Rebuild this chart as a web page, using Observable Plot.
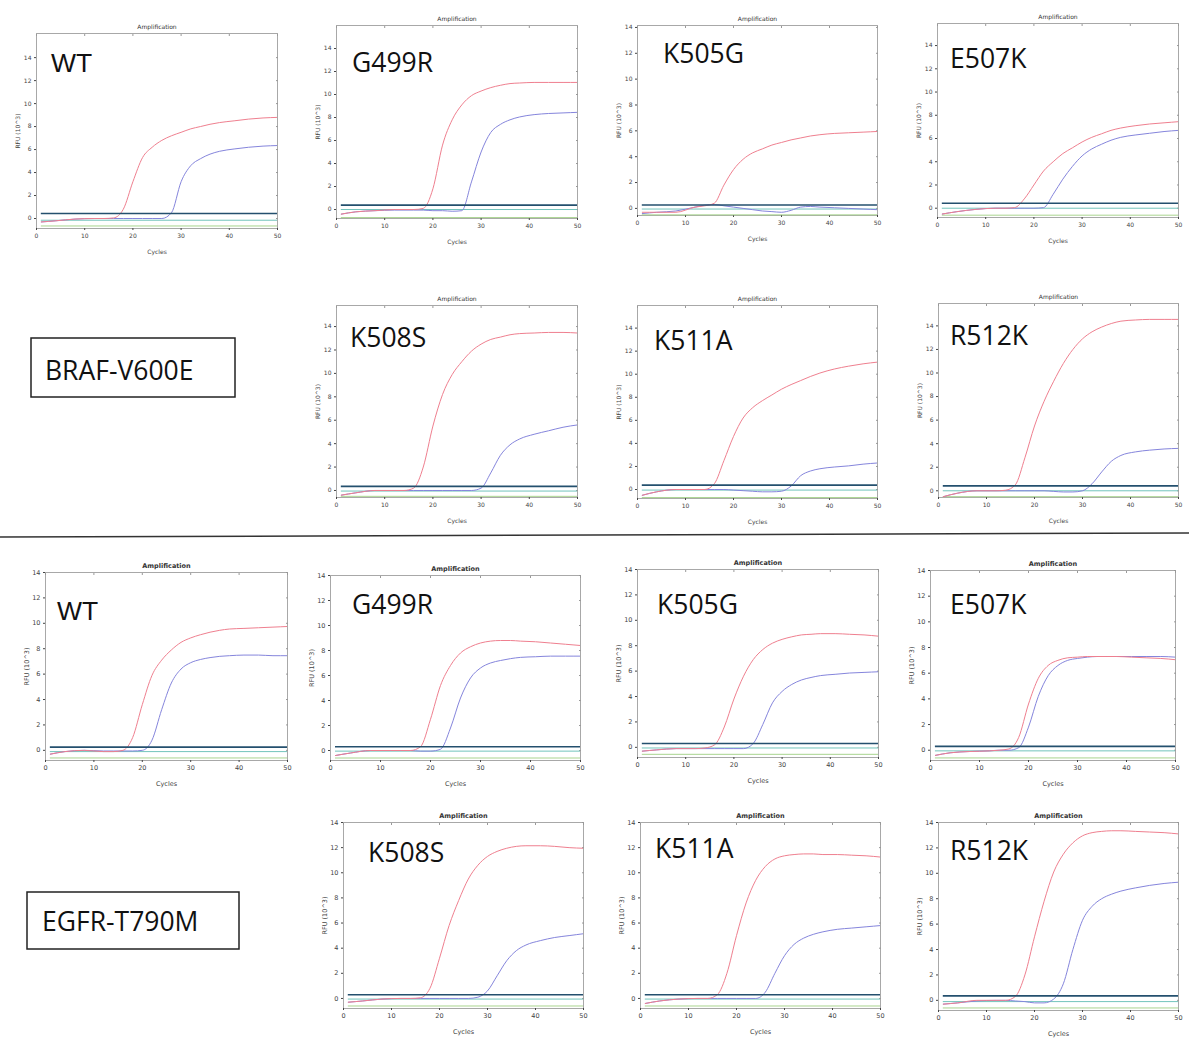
<!DOCTYPE html>
<html>
<head>
<meta charset="utf-8">
<script src="https://cdn.jsdelivr.net/npm/d3@7"></script>
<script src="https://cdn.jsdelivr.net/npm/@observablehq/plot@0.6"></script>
<style>
  html, body { margin: 0; padding: 0; background: #ffffff; }
  #root { position: relative; width: 1189px; height: 1040px; overflow: hidden; }
  #root svg.panel { position: absolute; overflow: visible; background: transparent; }
  #overlay { position: absolute; left: 0; top: 0; }
</style>
</head>
<body>
<div id="root"></div>
<script>
// ---------------- DATA ----------------
const cycles = [1, 4, 8, 12, 14, 16, 18, 20, 22, 24, 26, 28, 30, 32, 34, 36, 38, 41, 44, 47, 50];
const xTicks = [0, 10, 20, 30, 40, 50];
const yTicks = [0, 2, 4, 6, 8, 10, 12, 14];
const genes = ["BRAF-V600E", "EGFR-T790M"];
const mutants = ["WT", "G499R", "K505G", "E507K", "K508S", "K511A", "R512K"];

// BRAF-V600E panels: red (pink) curve per mutant, in the order of `mutants`
const brafRed = [
  [-0.3,-0.2,-0.05,0,0,0.05,0.8,3.2,5.3,6.2,6.8,7.2,7.5,7.8,8.0,8.2,8.35,8.5,8.65,8.75,8.8],
  [-0.4,-0.2,-0.1,0,0,0,0.1,1.8,5.6,7.8,9.1,9.9,10.3,10.6,10.8,10.95,11.0,11.05,11.05,11.05,11.05],
  [-0.3,-0.3,-0.3,0.1,0.2,0.4,1.8,3.0,3.8,4.3,4.6,4.9,5.1,5.3,5.45,5.6,5.7,5.8,5.85,5.9,5.95],
  [-0.5,-0.3,-0.1,0,0,0.05,0.8,2.0,3.2,4.0,4.7,5.2,5.7,6.1,6.4,6.7,6.9,7.1,7.25,7.35,7.45],
  [-0.4,-0.2,0,0,0,0.2,2.0,5.5,8.2,9.9,11.0,11.9,12.5,12.9,13.1,13.3,13.4,13.45,13.5,13.5,13.45],
  [-0.5,-0.2,0,0,0,0.5,2.5,4.6,6.2,7.1,7.7,8.2,8.7,9.1,9.45,9.8,10.1,10.45,10.7,10.9,11.05],
  [-0.5,-0.2,0,0,0.05,0.5,2.8,5.5,7.6,9.3,10.8,12.0,12.9,13.5,13.9,14.2,14.4,14.5,14.55,14.55,14.55]
];
// BRAF-V600E panels: blue curve per mutant
const brafBlue = [
  [-0.3,-0.2,-0.05,0,0,0,0,0,0,0,0,0.5,3.2,4.6,5.2,5.6,5.85,6.05,6.2,6.3,6.35],
  [-0.4,-0.2,-0.1,-0.05,-0.05,-0.05,-0.05,-0.1,-0.1,-0.15,-0.1,2.4,5.0,6.7,7.4,7.8,8.05,8.25,8.35,8.4,8.45],
  [-0.4,-0.3,-0.2,0.1,0.25,0.3,0.2,0.1,0,-0.1,-0.2,-0.25,-0.3,-0.15,0.1,0.15,0.1,0.05,0,-0.05,-0.1],
  [-0.5,-0.3,-0.1,0,0,0,0,0,0.05,1.2,2.5,3.6,4.5,5.1,5.5,5.85,6.1,6.3,6.45,6.6,6.7],
  [-0.4,-0.2,0,0,0,0,0,0,0,0,0,0,0.2,1.5,3.0,3.9,4.4,4.8,5.1,5.4,5.6],
  [-0.5,-0.2,0,0,0,0,0,-0.05,-0.1,-0.15,-0.2,-0.2,-0.15,0.3,1.2,1.6,1.8,1.95,2.05,2.2,2.3],
  [-0.5,-0.2,0,0,0,0,0,0,0,-0.05,-0.1,-0.1,0,0.6,1.6,2.5,3.0,3.3,3.45,3.55,3.6]
];
// EGFR-T790M panels: red (pink) curve per mutant
const egfrRed = [
  [-0.3,-0.1,0,-0.1,-0.1,0,1.0,3.6,5.9,7.1,7.9,8.5,8.85,9.1,9.3,9.45,9.55,9.6,9.65,9.7,9.75],
  [-0.4,-0.2,0,0,0,0,0.3,2.5,5.2,6.8,7.8,8.3,8.6,8.75,8.8,8.8,8.75,8.7,8.6,8.5,8.4],
  [-0.3,-0.2,-0.1,-0.1,-0.05,0.2,1.6,3.8,5.6,6.9,7.7,8.2,8.5,8.7,8.85,8.9,8.95,8.95,8.9,8.85,8.75],
  [-0.4,-0.2,-0.1,-0.05,0,0.1,1.0,3.6,5.6,6.6,7.0,7.2,7.25,7.3,7.3,7.3,7.3,7.25,7.2,7.15,7.05],
  [-0.3,-0.2,-0.05,0,0,0.05,0.8,3.2,5.8,7.8,9.5,10.6,11.3,11.7,11.95,12.1,12.15,12.15,12.1,12.0,11.95],
  [-0.4,-0.2,-0.05,0,0,0.3,2.0,5.0,7.6,9.4,10.5,11.1,11.35,11.45,11.5,11.5,11.45,11.45,11.4,11.35,11.25],
  [-0.3,-0.2,0,0,0,0.3,2.0,5.0,7.8,10.1,11.5,12.4,12.95,13.2,13.3,13.35,13.35,13.3,13.25,13.2,13.1]
];
// EGFR-T790M panels: blue curve per mutant
const egfrBlue = [
  [-0.3,-0.1,0,-0.05,-0.05,-0.05,-0.05,0,0.8,3.2,5.3,6.4,6.9,7.15,7.3,7.4,7.45,7.5,7.5,7.45,7.45],
  [-0.4,-0.2,0,0,0,0,-0.05,-0.05,0.1,1.8,4.2,5.8,6.6,7.0,7.2,7.35,7.45,7.5,7.55,7.55,7.55],
  [-0.3,-0.2,-0.1,-0.1,-0.1,-0.1,-0.1,-0.1,-0.1,0.3,1.8,3.5,4.4,4.95,5.3,5.5,5.65,5.75,5.85,5.9,5.95],
  [-0.4,-0.2,-0.1,-0.05,0,0,0.2,1.8,4.2,5.8,6.6,7.0,7.15,7.25,7.3,7.3,7.3,7.3,7.3,7.3,7.25],
  [-0.3,-0.2,-0.05,0,0,0,0,0,0,0,0,0.1,0.6,1.8,3.0,3.8,4.25,4.6,4.85,5.0,5.15],
  [-0.4,-0.2,-0.05,0,0,0,0,0,0,0,0.5,2.0,3.4,4.3,4.8,5.1,5.3,5.5,5.6,5.7,5.8],
  [-0.3,-0.2,-0.05,0,0,-0.05,-0.1,-0.2,-0.2,0.1,1.3,4.0,6.3,7.4,8.0,8.35,8.6,8.85,9.05,9.2,9.3]
];
// threshold and two flat control traces per panel
const brafThreshold = [0.43, 0.38, 0.26, 0.43, 0.35, 0.38, 0.42];
const egfrThreshold = [0.25, 0.3, 0.3, 0.3, 0.3, 0.3, 0.35];
const brafTeal = [-0.15, 0, -0.05, 0, -0.05, -0.05, 0];
const egfrTeal = [-0.1, -0.05, -0.05, -0.05, -0.05, -0.05, -0.1];
const brafGreen = [-0.65, -0.7, -0.5, -0.6, -0.5, -0.7, -0.5];
const egfrGreen = [-0.6, -0.6, -0.55, -0.6, -0.6, -0.6, -0.6];
// y-scale extents of each panel (RFU x10^3)
const brafYDomain = [[-0.87,16.1],[-0.78,16.0],[-0.55,14.15],[-0.8,15.9],[-0.6,15.8],[-0.78,15.96],[-0.57,15.9]];
const egfrYDomain = [[-0.8,14],[-0.8,14],[-0.8,14],[-0.8,14],[-0.8,14],[-0.8,14],[-0.8,14]];

// ---------------- LAYOUT (page pixel boxes of each plot frame) ----------------
const brafFrames = [[36,33,277,228],[336,25,577,218],[637,25,877,215],[937,23,1178,217],[336,305,577,497],[637,305,877,498],[938,303,1178,497]];
const egfrFrames = [[45,572,287,760],[330,575,580,760],[637,569,878,757],[930,570,1175,760],[343,822,583,1008],[640,822,880,1008],[938,822,1178,1010]];
const brafLabelPos = [[51,72],[352,72],[663,63],[950,68],[350,347],[654,350],[950,345]];
const egfrLabelPos = [[57,620],[352,614],[657,614],[950,614],[368,862],[655,858],[950,860]];

const root = document.getElementById("root");
const mL = 30, mR = 6, mT = 22, mB = 34;

function panel(frame, yDomain, red, blue, thr, teal, green, big) {
  const [L, T, R, B] = frame;
  const redRows = cycles.map((c, i) => ({cycle: c, rfu: red[i]}));
  const blueRows = cycles.map((c, i) => ({cycle: c, rfu: blue[i]}));
  const fs = big ? 6.5 : 6;
  const svg = Plot.plot({
    width: (R - L) + mL + mR,
    height: (B - T) + mT + mB,
    marginLeft: mL, marginRight: mR, marginTop: mT, marginBottom: mB,
    style: {fontFamily: "DejaVu Sans", fontSize: fs + "px", color: "#444", background: "transparent"},
    x: {domain: [0, 50], ticks: xTicks, tickSize: 2, tickPadding: 3, label: "Cycles", labelAnchor: "center", labelArrow: "none", labelOffset: 25},
    y: {domain: yDomain, ticks: yTicks, tickSize: 2, tickPadding: 3, label: "RFU (10^3)", labelAnchor: "center", labelArrow: "none", labelOffset: 21},
    marks: [
      Plot.frame({stroke: "#a8a8a8"}),
      Plot.axisX({anchor: "top", ticks: xTicks, tickSize: -2, tickFormat: () => "", label: null, stroke: "#999"}),
      Plot.axisY({anchor: "right", ticks: yTicks, tickSize: -2, tickFormat: () => "", label: null, stroke: "#999"}),
      Plot.axisX({ticks: xTicks, tickSize: 2, tickPadding: 3, label: "Cycles", labelAnchor: "center", labelArrow: "none", labelOffset: 25}),
      Plot.axisY({ticks: yTicks, tickSize: 2, tickPadding: 3, label: "RFU (10^3)", labelAnchor: "center", labelArrow: "none", labelOffset: 21}),
      Plot.ruleY([green], {x1: 1, x2: 50, stroke: "#a9d48f", strokeWidth: 1}),
      Plot.ruleY([teal], {x1: 1, x2: 50, stroke: "#72c4bc", strokeWidth: 1}),
      Plot.line(blueRows, {x: "cycle", y: "rfu", stroke: "#8585dc", strokeWidth: 1, curve: "monotone-x", clip: true}),
      Plot.line(redRows, {x: "cycle", y: "rfu", stroke: "#ef7f8f", strokeWidth: 1, curve: "monotone-x", clip: true}),
      Plot.ruleY([thr], {x1: 1, x2: 50, stroke: "#24506e", strokeWidth: 1.6}),
      Plot.text(["Amplification"], {frameAnchor: "top", dy: -9, fontSize: fs, fill: "#333", fontWeight: big ? "bold" : "normal"})
    ]
  });
  svg.classList.add("panel");
  svg.style.left = (L - mL) + "px";
  svg.style.top = (T - mT) + "px";
  root.appendChild(svg);
}

mutants.forEach((m, i) => panel(brafFrames[i], brafYDomain[i], brafRed[i], brafBlue[i], brafThreshold[i], brafTeal[i], brafGreen[i], false));
mutants.forEach((m, i) => panel(egfrFrames[i], egfrYDomain[i], egfrRed[i], egfrBlue[i], egfrThreshold[i], egfrTeal[i], egfrGreen[i], true));

// ---------------- annotations: mutant labels, gene boxes, separator ----------------
const ov = d3.select(root).append("svg").attr("id", "overlay").attr("width", 1189).attr("height", 1040);
function label(text, pos, family) {
  ov.append("text").attr("x", pos[0]).attr("y", pos[1]).text(text)
    .attr("font-family", family).attr("font-size", 26.5).attr("fill", "#111");
}
mutants.forEach((m, i) => label(m, brafLabelPos[i], m === "WT" ? "Liberation Sans" : "Open Sans"));
mutants.forEach((m, i) => label(m, egfrLabelPos[i], m === "WT" ? "Liberation Sans" : "Open Sans"));

ov.append("line").attr("x1", 0).attr("y1", 537).attr("x2", 1189).attr("y2", 533).attr("stroke", "#333").attr("stroke-width", 1.5);

const boxes = [[31,338,235,397,45,380], [27,892,239,949,42,931]];
genes.forEach((g, i) => {
  const [x0, y0, x1, y1, tx, ty] = boxes[i];
  ov.append("rect").attr("x", x0).attr("y", y0).attr("width", x1 - x0).attr("height", y1 - y0)
    .attr("fill", "none").attr("stroke", "#222").attr("stroke-width", 1.5);
  ov.append("text").attr("x", tx).attr("y", ty).text(g)
    .attr("font-family", "Open Sans").attr("font-size", 26.5).attr("fill", "#111");
});
</script>
</body>
</html>
